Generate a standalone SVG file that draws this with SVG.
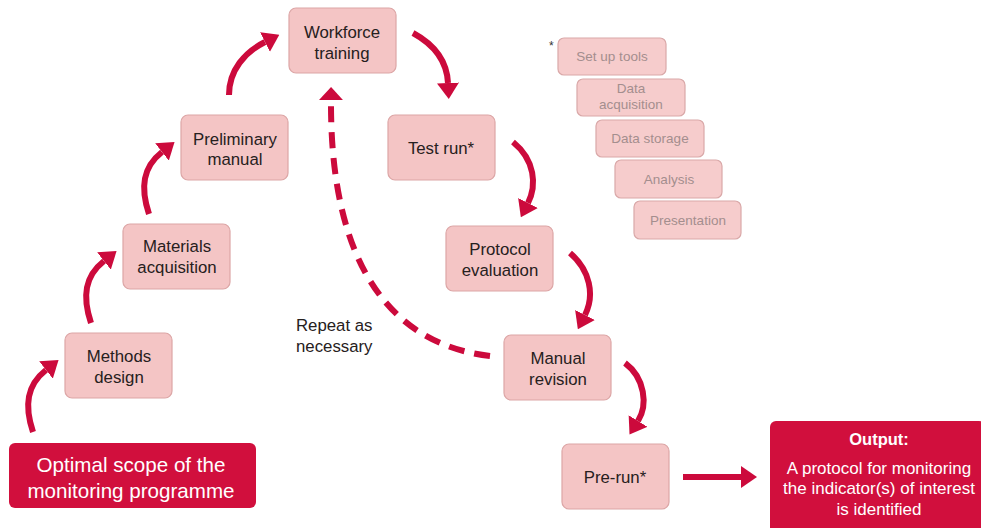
<svg xmlns="http://www.w3.org/2000/svg" width="981" height="528" viewBox="0 0 981 528">
<style>
.n{fill:#f4c5c5;stroke:#dca6a6;stroke-width:1.2}
.s{fill:#f6cccc;stroke:#d9a8a8;stroke-width:1.2}
.d{fill:#d10f3d}
.t{font-family:"Liberation Sans",Arial,sans-serif;font-size:16.8px;fill:#262020;text-anchor:middle}
.st{font-family:"Liberation Sans",Arial,sans-serif;font-size:13.5px;fill:#a48e8e;text-anchor:middle}
.w{font-family:"Liberation Sans",Arial,sans-serif;fill:#fff;text-anchor:middle}
.a{fill:none;stroke:#cc0a3c;stroke-width:6}
</style>
<defs>
<marker id="h" markerUnits="userSpaceOnUse" viewBox="0 0 16 22" markerWidth="16" markerHeight="22" refX="0" refY="11" orient="auto"><path d="M0,0 L16,11 L0,22 z" fill="#cc0a3c"/></marker>
<marker id="hd" markerUnits="userSpaceOnUse" viewBox="0 0 13 24" markerWidth="13" markerHeight="24" refX="0" refY="12" orient="auto"><path d="M0,0 L13,12 L0,24 z" fill="#cc0a3c"/></marker>
</defs>
<g id="connectors">
<path class="a" d="M33,432 C24,405 27,385 46,370" marker-end="url(#h)"/>
<path class="a" d="M91,323 C82,296 85,276 104,261" marker-end="url(#h)"/>
<path class="a" d="M149,214 C140,187 143,167 162,152" marker-end="url(#h)"/>
<path class="a" d="M229,95 C229,70 245,52 265,42" marker-end="url(#h)"/>
<path class="a" d="M413,33 C435,45 447,62 448,83" marker-end="url(#h)"/>
<path class="a" d="M513,142 C535,160 537,185 528,203" marker-end="url(#h)"/>
<path class="a" d="M570,253 C590,270 595,295 585,315" marker-end="url(#h)"/>
<path class="a" d="M625,363 C645,378 648,405 638,421" marker-end="url(#h)"/>
<path class="a" d="M683,477 L741,477" marker-end="url(#h)"/>
<path class="a" d="M490,356 C395,345 330,270 331,100" stroke-dasharray="16,10" marker-end="url(#hd)"/>
</g>
<g id="workforce"><rect class="n" x="289" y="8" width="107" height="65" rx="7"/><text class="t" x="342" y="38">Workforce</text><text class="t" x="342" y="59">training</text></g>
<g id="preliminary"><rect class="n" x="181" y="115" width="107" height="65" rx="7"/><text class="t" x="235" y="145">Preliminary</text><text class="t" x="235" y="165">manual</text></g>
<g id="materials"><rect class="n" x="123" y="224" width="107" height="65" rx="7"/><text class="t" x="177" y="252">Materials</text><text class="t" x="177" y="273">acquisition</text></g>
<g id="methods"><rect class="n" x="65" y="333" width="107" height="65" rx="7"/><text class="t" x="119" y="362">Methods</text><text class="t" x="119" y="383">design</text></g>
<g id="testrun"><rect class="n" x="388" y="115" width="107" height="65" rx="7"/><text class="t" x="441" y="154">Test run*</text></g>
<g id="protocol"><rect class="n" x="446" y="226" width="107" height="65" rx="7"/><text class="t" x="500" y="255">Protocol</text><text class="t" x="500" y="276">evaluation</text></g>
<g id="revision"><rect class="n" x="504" y="335" width="107" height="65" rx="7"/><text class="t" x="558" y="364">Manual</text><text class="t" x="558" y="385">revision</text></g>
<g id="prerun"><rect class="n" x="562" y="444" width="107" height="65" rx="7"/><text class="t" x="615" y="483">Pre-run*</text></g>
<g id="scope"><rect class="d" x="9" y="443" width="247" height="65" rx="6"/><text class="w" x="131" y="472" font-size="20.6">Optimal scope of the</text><text class="w" x="131" y="498" font-size="20.6">monitoring programme</text></g>
<g id="output"><rect class="d" x="770" y="421" width="215" height="112" rx="6"/><text class="w" x="879" y="445" font-size="16.5" font-weight="bold">Output:</text><text class="w" x="879" y="474" font-size="17">A protocol for monitoring</text><text class="w" x="879" y="494" font-size="17">the indicator(s) of interest</text><text class="w" x="879" y="515" font-size="17">is identified</text></g>
<g id="repeat"><text class="t" x="296" y="331" style="text-anchor:start">Repeat as</text><text class="t" x="296" y="352" style="text-anchor:start">necessary</text></g>
<g id="tools">
<text x="549" y="50" font-family="Liberation Sans,Arial,sans-serif" font-size="12" fill="#333">*</text>
<g id="setup"><rect class="s" x="558" y="38" width="108" height="37" rx="6"/><text class="st" x="612" y="61">Set up tools</text></g>
<g id="dataacq"><rect class="s" x="577" y="79" width="108" height="37" rx="6"/><text class="st" x="631" y="93">Data</text><text class="st" x="631" y="109">acquisition</text></g>
<g id="datastor"><rect class="s" x="596" y="120" width="108" height="37" rx="6"/><text class="st" x="650" y="143">Data storage</text></g>
<g id="analysis"><rect class="s" x="615" y="160" width="107" height="38" rx="6"/><text class="st" x="669" y="184">Analysis</text></g>
<g id="presentation"><rect class="s" x="634" y="201" width="107" height="38" rx="6"/><text class="st" x="688" y="225">Presentation</text></g>
</g>
</svg>
